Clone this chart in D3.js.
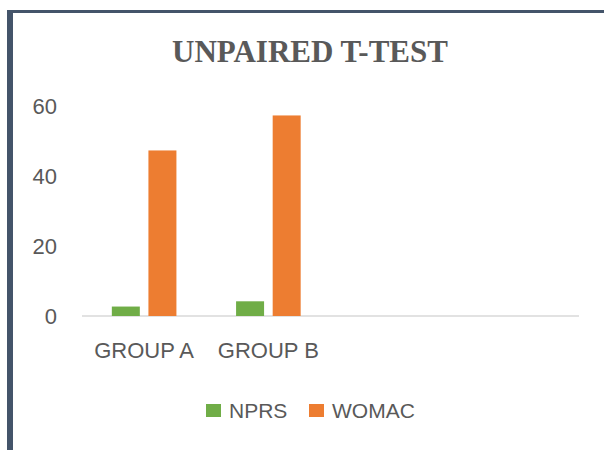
<!DOCTYPE html>
<html>
<head>
<meta charset="utf-8">
<script src="https://cdn.jsdelivr.net/npm/d3@7"></script>
<style>
  html, body { margin: 0; padding: 0; background: #fff; }
  svg { display: block; }
</style>
</head>
<body>
<div id="chart"></div>
<script>
// data
const categories = ['GROUP A', 'GROUP B', '', ''];
const series = ['NPRS', 'WOMAC'];
const nprs = [2.7, 4.2];
const womac = [47.3, 57.3];
const yTicks = [0, 20, 40, 60];

const width = 604, height = 450;
const colors = { NPRS: '#70ad47', WOMAC: '#ed7d31' };
const textColor = '#595959';

const svg = d3.select('#chart')
  .append('svg')
  .attr('width', width)
  .attr('height', height);

svg.append('rect')
  .attr('width', width)
  .attr('height', height)
  .attr('fill', '#fff');

// frame (top + left edge)
svg.append('rect')
  .attr('x', 7).attr('y', 10)
  .attr('width', width - 7).attr('height', 3)
  .attr('fill', '#44546a');
svg.append('rect')
  .attr('x', 7).attr('y', 10)
  .attr('width', 6).attr('height', height - 10)
  .attr('fill', '#44546a');

svg.append('text')
  .attr('x', 310)
  .attr('y', 62)
  .attr('text-anchor', 'middle')
  .attr('font-family', '"Liberation Serif", "Times New Roman", serif')
  .attr('font-weight', 'bold')
  .attr('font-size', 31)
  .attr('fill', textColor)
  .text('UNPAIRED T-TEST');

const x = d3.scaleBand()
  .domain(d3.range(categories.length))
  .range([82, 579]);

const xInner = d3.scaleBand()
  .domain(series)
  .range([0, x.bandwidth()])
  .paddingInner(0.235)
  .paddingOuter(0.815);

const y = d3.scaleLinear()
  .domain([0, 60])
  .range([316, 106]);

// baseline
svg.append('line')
  .attr('x1', x.range()[0]).attr('x2', x.range()[1])
  .attr('y1', y(0)).attr('y2', y(0))
  .attr('stroke', '#d9d9d9')
  .attr('stroke-width', 1.5);

// y labels
svg.append('g')
  .selectAll('text')
  .data(yTicks)
  .enter()
  .append('text')
  .attr('x', 57)
  .attr('y', d => y(d))
  .attr('dy', '0.35em')
  .attr('text-anchor', 'end')
  .attr('font-family', '"Liberation Sans", Arial, sans-serif')
  .attr('font-size', 22)
  .attr('fill', textColor)
  .text(d => d);

// x labels
svg.append('g')
  .selectAll('text')
  .data(d3.range(categories.length))
  .enter()
  .append('text')
  .attr('x', i => x(i) + x.bandwidth() / 2)
  .attr('y', 358)
  .attr('text-anchor', 'middle')
  .attr('font-family', '"Liberation Sans", Arial, sans-serif')
  .attr('font-size', 22)
  .attr('fill', textColor)
  .text(i => categories[i]);

// bars
const values = { NPRS: nprs, WOMAC: womac };
const rows = [];
series.forEach(s => values[s].forEach((v, i) => rows.push({ s, i, v })));

svg.append('g')
  .selectAll('rect')
  .data(rows)
  .enter()
  .append('rect')
  .attr('x', d => x(d.i) + xInner(d.s))
  .attr('y', d => y(d.v))
  .attr('width', xInner.bandwidth())
  .attr('height', d => y(0) - y(d.v))
  .attr('fill', d => colors[d.s]);

// legend
const legendX = [206, 309];
const legend = svg.append('g')
  .selectAll('g')
  .data(series)
  .enter()
  .append('g')
  .attr('transform', (d, i) => 'translate(' + legendX[i] + ',404)');

legend.append('rect')
  .attr('width', 15)
  .attr('height', 13)
  .attr('fill', d => colors[d]);

legend.append('text')
  .attr('x', 23)
  .attr('y', 14)
  .attr('font-family', '"Liberation Sans", Arial, sans-serif')
  .attr('font-size', 21)
  .attr('fill', textColor)
  .text(d => d);
</script>
</body>
</html>
